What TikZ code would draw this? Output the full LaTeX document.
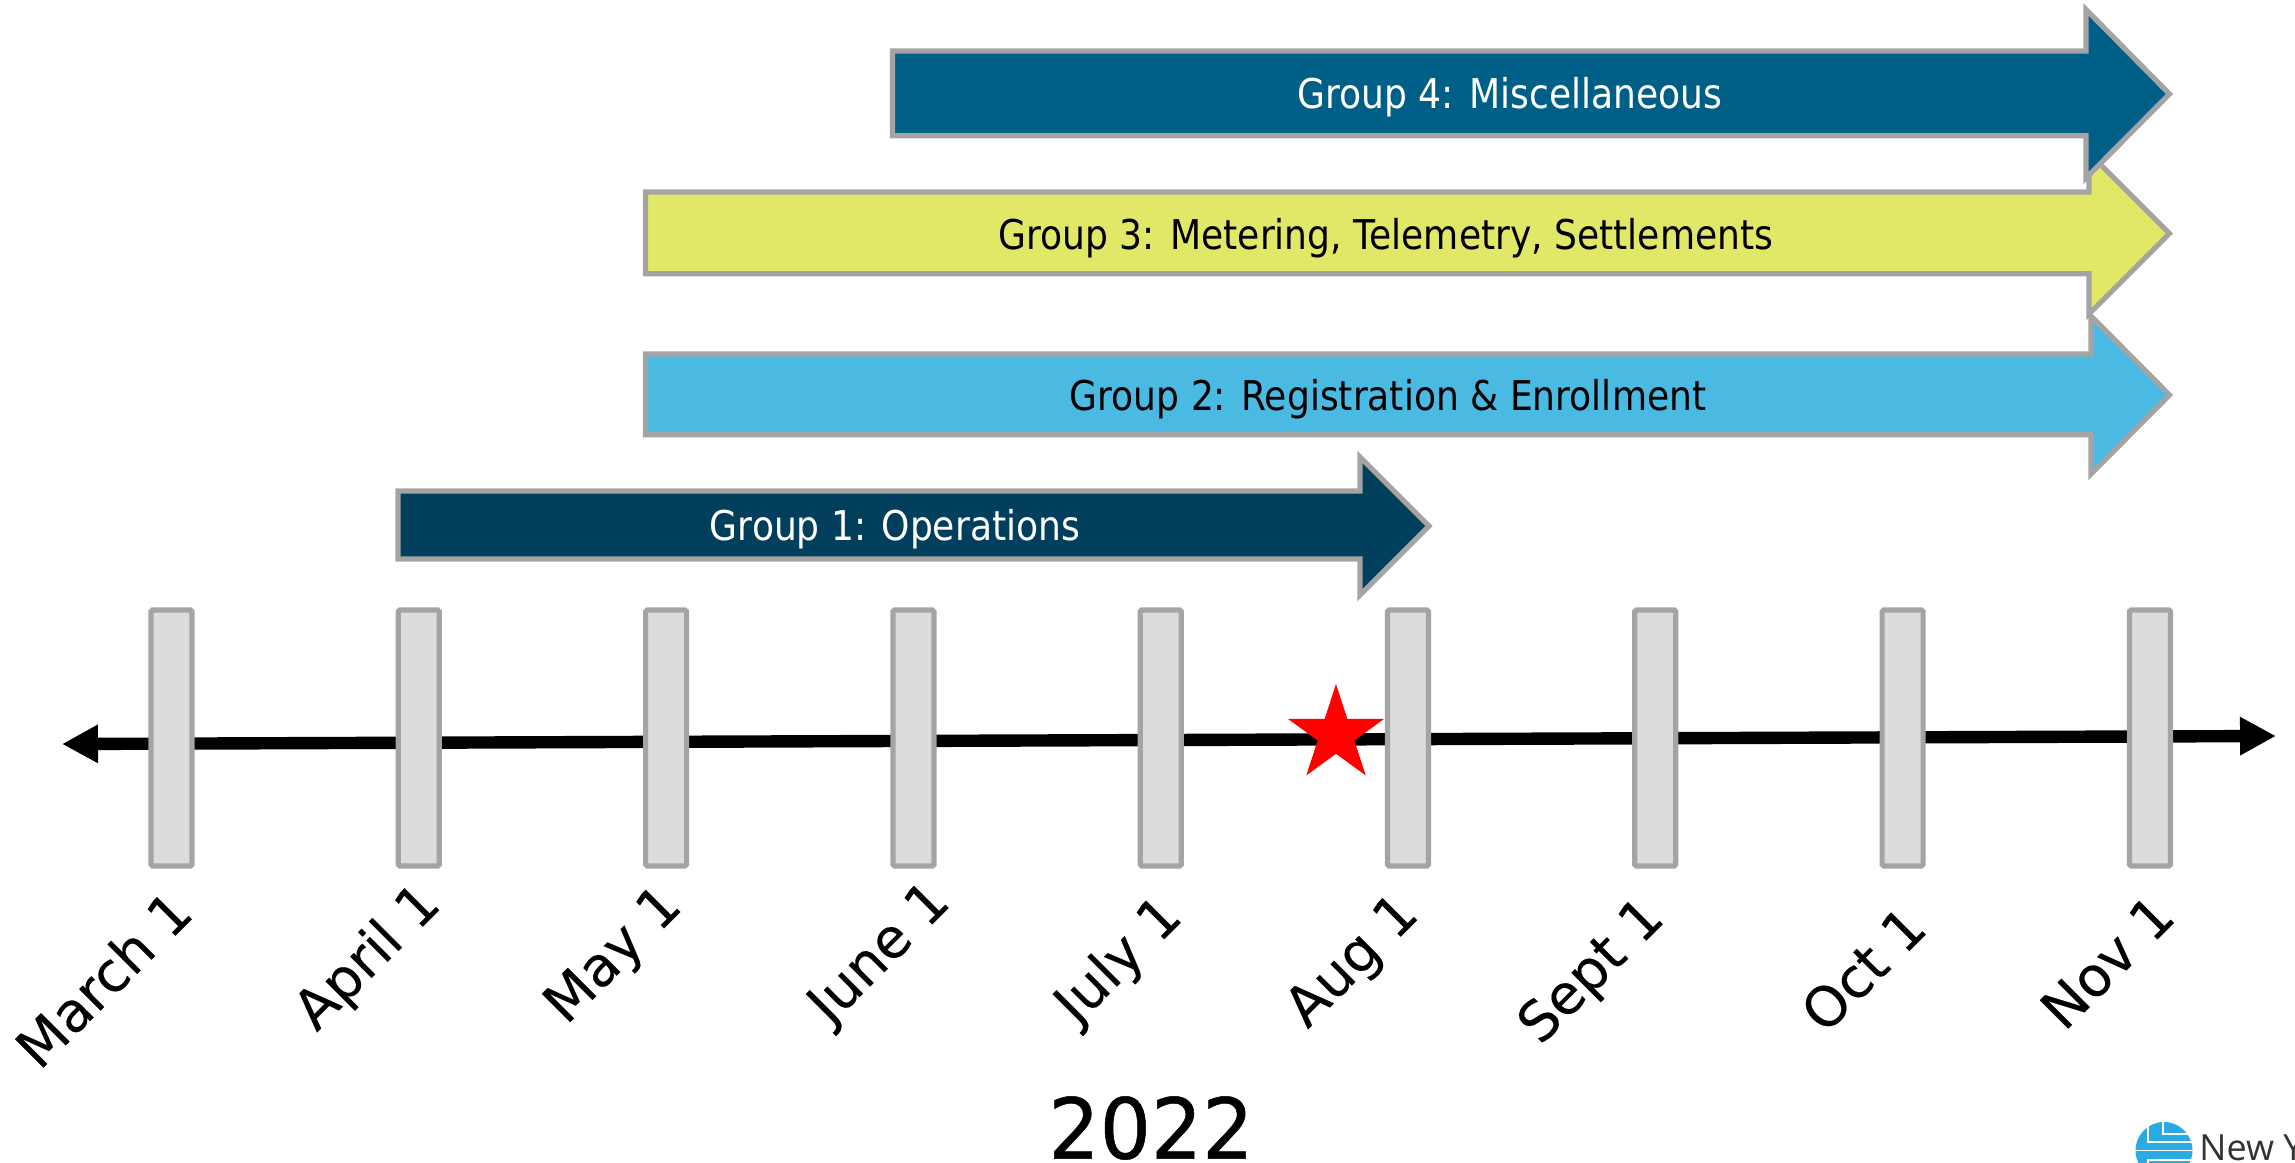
\documentclass[tikz,border=0pt]{standalone}
\usepackage{fontspec}
\setmainfont{DejaVu Sans}
\newfontfamily\grpfont[FakeStretch=0.88]{DejaVu Sans}
\newfontfamily\yearfont[FakeStretch=0.96,FakeBold=0.6]{DejaVu Sans}
\newfontfamily\datefont[FakeBold=0.2]{DejaVu Sans}
\newfontfamily\logofont{Open Sans}
\usetikzlibrary{arrows.meta,shapes.geometric}
\definecolor{gfour}{HTML}{005F86}
\definecolor{gthree}{HTML}{E1E868}
\definecolor{gtwo}{HTML}{4ABAE3}
\definecolor{gone}{HTML}{023F5C}
\definecolor{tickfill}{HTML}{DCDCDC}
\definecolor{edgegrey}{HTML}{A4A4A4}
\definecolor{logoblue}{HTML}{29ABE2}
\tikzset{
  block/.style={draw=edgegrey,line width=2.6pt,miter limit=10},
  grouplabel/.style={font=\grpfont\fontsize{20.5}{24}\selectfont,inner sep=0pt},
  tickbar/.style={draw=edgegrey,line width=2.6pt,fill=tickfill,rounded corners=0.8pt,minimum width=20.5pt,minimum height=128pt,inner sep=0pt},
  datelabel/.style={font=\datefont\fontsize{27.5}{32}\selectfont,rotate=45,inner sep=0pt},
  axisline/.style={line width=6.2pt,{Triangle[length=18pt,width=18pt]}-{Triangle[length=18pt,width=18pt]}},
  logoline/.style={white,line width=0.7pt},
}
\begin{document}
\begin{tikzpicture}[x=0.5pt,y=-0.5pt]
\useasboundingbox (0,0) rectangle (2295,1162);
\clip (0,0) rectangle (2295,1162);
% axis
\coordinate (axisL) at (62,744);
\coordinate (axisR) at (2276,736);
\draw[axisline] (axisL) -- (axisR);
% ticks
\foreach \n/\x in {t1/171.5,t2/418.8,t3/666.1,t4/913.4,t5/1160.7,t6/1408,t7/1655.3,t8/1902.6,t9/2150}
  \node[tickbar] (\n) at (\x,738) {};
% star
\node[star,star points=5,star point ratio=2.618,fill=red,minimum size=50.5pt,inner sep=0pt] (now) at (1336,734.5) {};
% group arrows
\draw[block,fill=gone] (398,491) -- (1360,491) -- (1360,457) -- (1429,526) -- (1360,595) -- (1360,559) -- (398,559) -- cycle;
\draw[block,fill=gtwo] (645.5,354) -- (2091,354) -- (2091,316) -- (2169.5,395) -- (2091,474) -- (2091,434.7) -- (645.5,434.7) -- cycle;
\draw[block,fill=gthree] (645.5,192) -- (2089,192) -- (2089,153) -- (2169.5,233.5) -- (2089,314) -- (2089,273.7) -- (645.5,273.7) -- cycle;
\draw[block,fill=gfour] (892.5,51) -- (2086,51) -- (2086,9.5) -- (2169.5,94) -- (2086,178) -- (2086,135.7) -- (892.5,135.7) -- cycle;
\node[grouplabel,text=white] (g4) at (1510,97) {Group 4: Miscellaneous};
\node[grouplabel,text=black] (g3) at (1386,238) {Group 3: Metering, Telemetry, Settlements};
\node[grouplabel,text=black] (g2) at (1388,399) {Group 2: Registration \& Enrollment};
\node[grouplabel,text=white] (g1) at (895,529) {Group 1: Operations};
% dates
\node[datelabel] (d1) at (103,979) {March 1};
\node[datelabel] (d2) at (369,959) {April 1};
\node[datelabel] (d3) at (615,957) {May 1};
\node[datelabel] (d4) at (881,955) {June 1};
\node[datelabel] (d5) at (1120,962) {July 1};
\node[datelabel] (d6) at (1354,963) {Aug 1};
\node[datelabel] (d7) at (1593,973) {Sept 1};
\node[datelabel] (d8) at (1863,969) {Oct 1};
\node[datelabel] (d9) at (2107,962) {Nov 1};
\node[font=\yearfont\fontsize{42}{46}\selectfont,inner sep=0pt] (year) at (1151,1128) {2022};
% logo
\fill[logoblue] (2164,1150.5) circle[radius=28.5];
\draw[logoline] (2163,1120) -- (2163,1134) -- (2194,1134);
\draw[logoline] (2148,1124) -- (2148,1142) -- (2194,1142);
\draw[logoline] (2134,1150.5) -- (2194,1150.5);
\draw[logoline] (2148,1163) -- (2148,1160) -- (2194,1160);
\node[anchor=base west,font=\logofont\fontsize{18}{20}\selectfont,text=black!80,inner sep=0pt] (logotext) at (2199,1160.5) {New York};
\end{tikzpicture}
\end{document}
